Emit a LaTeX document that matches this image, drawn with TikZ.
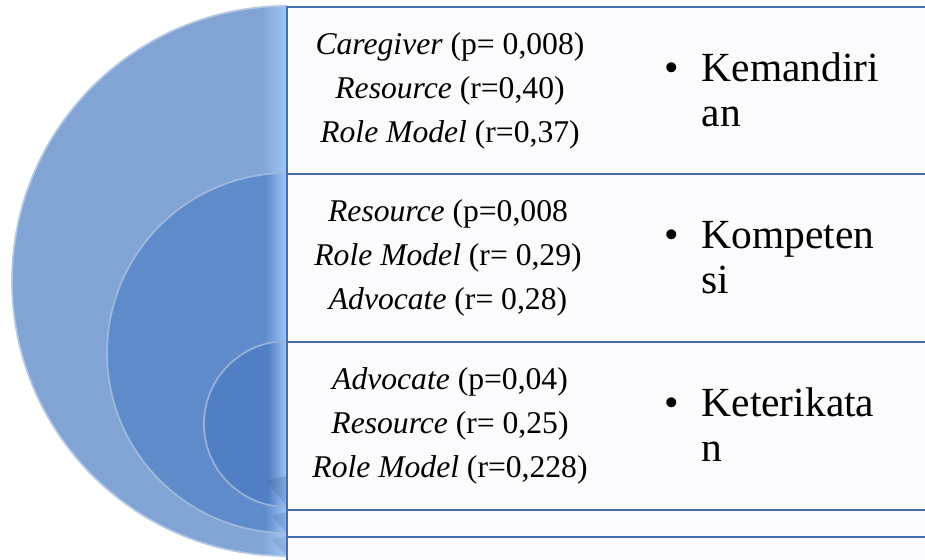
\documentclass[tikz,border=0pt]{standalone}
\usepackage{fontspec}
\setmainfont{Liberation Serif}
\usepackage{tikz}

\definecolor{outerblue}{RGB}{129,164,212}
\definecolor{midblue}{RGB}{94,139,202}
\definecolor{innerblue}{RGB}{80,127,195}
\definecolor{edgelight}{RGB}{160,198,248}
\definecolor{rowline}{RGB}{66,109,174}
\definecolor{rowfill}{RGB}{251,250,253}

\begin{document}
\begin{tikzpicture}[x=0.02cm,y=0.02cm,
  disk/.style={fill=#1},
  rim/.style={draw=#1!60!white, line width=1pt},
  fold/.style={fill=#1!85!black, fill opacity=0.3},
  row/.style={draw=rowline, line width=1.2pt, fill=rowfill},
  stats/.style={align=center, inner sep=0, font=\fontsize{18}{25}\selectfont},
  item/.style={anchor=base west, inner sep=0, font=\fontsize{23.6}{25.6}\selectfont}]
\useasboundingbox (0,0) rectangle (925,560);

% outer half disk
\fill[disk=outerblue] (287,554) arc[start angle=90,end angle=270,radius=275] -- cycle;
\begin{scope}
\clip (287,554) arc[start angle=90,end angle=270,radius=275] -- cycle;
\shade[left color=outerblue, right color=edgelight] (262,0) rectangle (287,560);
\fill[fold=outerblue] (287,4) -- (272,20) -- (287,24) -- cycle;
\end{scope}
\draw[rim=outerblue] (287,554) arc[start angle=90,end angle=270,radius=275];

% middle half disk
\fill[disk=midblue] (287,387) arc[start angle=90,end angle=270,radius=180] -- cycle;
\begin{scope}
\clip (287,387) arc[start angle=90,end angle=270,radius=180] -- cycle;
\shade[left color=midblue, right color=edgelight] (265,0) rectangle (287,560);
\fill[fold=midblue] (287,27) -- (271,44) -- (287,48) -- cycle;
\end{scope}
\draw[rim=midblue] (287,387) arc[start angle=90,end angle=270,radius=180];

% inner half disk
\fill[disk=innerblue] (287,219) arc[start angle=90,end angle=270,radius=83] -- cycle;
\begin{scope}
\clip (287,219) arc[start angle=90,end angle=270,radius=83] -- cycle;
\shade[left color=innerblue, right color=edgelight] (268,0) rectangle (287,560);
\fill[fold=innerblue] (287,53) -- (266,80) -- (287,84) -- cycle;
\end{scope}
\draw[rim=innerblue] (287,219) arc[start angle=90,end angle=270,radius=83];

% rows
\draw[row] (287,553) rectangle (940,386);
\draw[row] (287,386) rectangle (940,218);
\draw[row] (287,218) rectangle (940,50);
\draw[row] (287,50) rectangle (940,23);
\draw[row] (287,23) rectangle (940,-20);

\node[stats] (mandiri) at (450,469) {\textit{Caregiver} (p= 0,008)\\ \textit{Resource} (r=0,40)\\ \textit{Role Model} (r=0,37)};
\node[stats] (kompeten) at (448,302) {\textit{Resource} (p=0,008\\ \textit{Role Model} (r= 0,29)\\ \textit{Advocate} (r= 0,28)};
\node[stats] (terikat) at (450,134) {\textit{Advocate} (p=0,04)\\ \textit{Resource} (r= 0,25)\\ \textit{Role Model} (r=0,228)};

\node[item] (mandiri-b) at (664,478) {\textbullet\hspace{13pt}\begin{tabular}[t]{@{}l@{}}Kemandiri\\an\end{tabular}};
\node[item] (kompeten-b) at (664,311) {\textbullet\hspace{13pt}\begin{tabular}[t]{@{}l@{}}Kompeten\\si\end{tabular}};
\node[item] (terikat-b) at (664,143) {\textbullet\hspace{13pt}\begin{tabular}[t]{@{}l@{}}Keterikata\\n\end{tabular}};
\end{tikzpicture}
\end{document}
